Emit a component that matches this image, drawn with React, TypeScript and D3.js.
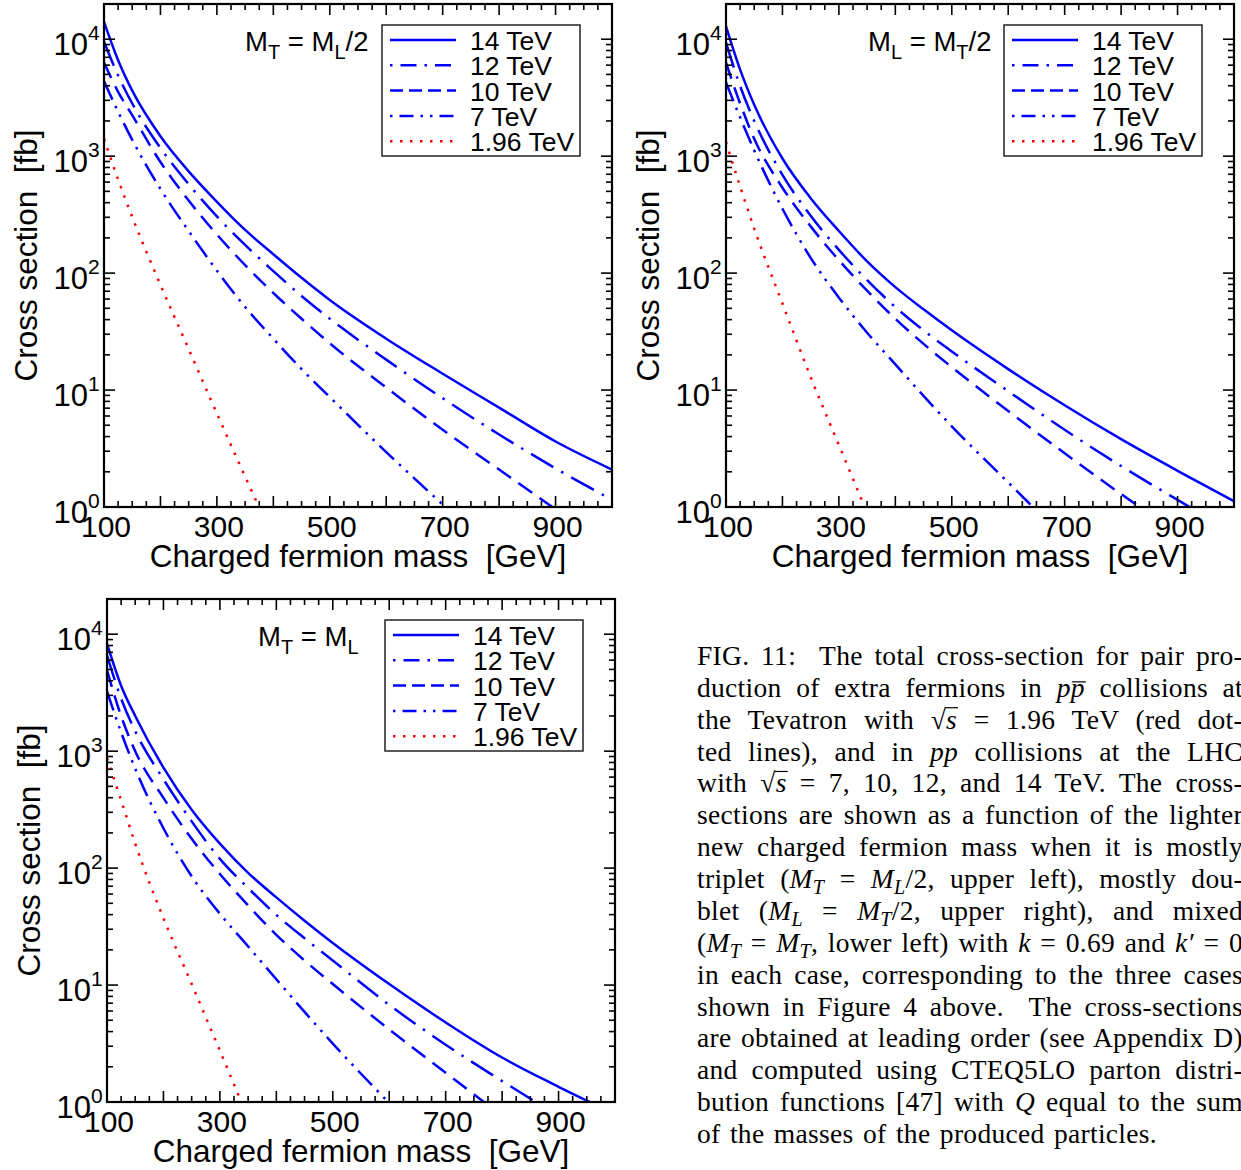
import React, { useLayoutEffect, useRef, useState } from 'react';
import * as d3 from 'd3';

// ---- data (cross sections in fb) ----
const MASS = [100, 125, 150, 200, 250, 300, 350, 400, 450, 500, 600, 700, 800, 900, 1000];
const ENERGY_LABELS = ['14 TeV', '12 TeV', '10 TeV', '7 TeV', '1.96 TeV'];
const X_TICK_LABELS = [100, 300, 500, 700, 900];
const Y_DECADES = [0, 1, 2, 3, 4];

// M_T = M_L/2
const A14 = [14100, 6610, 3630, 1480, 741, 407, 234, 145, 91.2, 58.9, 27.5, 13.8, 7.08, 3.63, 2.09];
const A12 = [9550, 4900, 2820, 1175, 575, 305, 174, 104, 63.8, 40.7, 18.2, 8.51, 4.17, 2.14, 1.15];
const A10 = [6310, 3550, 2240, 891, 417, 214, 117, 67.6, 40.7, 25.1, 10.5, 4.57, 2.09, 0.955];
const A7 = [4370, 2400, 1380, 525, 229, 105, 51.3, 27.5, 15.1, 8.71, 2.95, 1.05, 0.38];
const ATEV = [1410, 631, 302, 79.4, 22.4, 6.31, 1.82, 0.54];

// M_L = M_T/2
const B14 = [12900, 5500, 2750, 955, 437, 229, 126, 75.9, 49.0, 32.4, 15.1, 7.41, 3.8, 2.04, 1.12];
const B12 = [9330, 3980, 2000, 692, 309, 158, 87.1, 51.3, 32.4, 21.4, 9.77, 4.57, 2.24, 1.15, 0.6];
const B10 = [6310, 2820, 1410, 537, 251, 129, 70.8, 40.7, 24.8, 15.7, 6.61, 2.88, 1.29, 0.6];
const B7 = [4270, 2140, 1120, 355, 135, 61.7, 30.9, 16.6, 8.91, 4.9, 1.62, 0.54];
const BTEV = [1320, 550, 240, 55.0, 12.9, 3.39, 0.89];

// M_T = M_L
const C14 = [8320, 3630, 2000, 724, 316, 162, 91.2, 56.2, 35.5, 22.9, 10.2, 4.79, 2.4, 1.35, 0.79];
const C12 = [6610, 2820, 1480, 575, 251, 120, 67.6, 39.8, 25.1, 16.2, 6.76, 3.09, 1.51, 0.76];
const C10 = [4900, 2000, 1000, 398, 178, 89.1, 47.9, 26.9, 16.2, 10.2, 4.17, 1.78, 0.76];
const C7 = [3240, 1450, 708, 219, 85.1, 40.7, 21.4, 11.2, 5.89, 3.16, 0.98];
const CTEV = [871, 380, 162, 37.2, 10.2, 2.75, 0.72];

// ---- styles ----
const BLUE = '#0000ff';
const RED = '#ff0000';
const SERIES_STYLE = [
  { color: BLUE, curveDash: undefined, legendDash: undefined },
  { color: BLUE, curveDash: '26 9 2.5 9', legendDash: '2.5 8 16 8' },
  { color: BLUE, curveDash: '17 9', legendDash: '13 6' },
  { color: BLUE, curveDash: '20 7 2.5 7 2.5 7', legendDash: '2.5 7 14 7 2.5 7' },
  { color: RED, curveDash: '2.5 7.5', legendDash: '2.5 7.5' },
];

const SANS = '"Liberation Sans", Arial, Helvetica, sans-serif';
const SERIF = '"Liberation Serif", "Times New Roman", serif';
const W = 508;
const H = 503;

type Label = { a: string; sa: string; b: string; sb: string; tail: string };

const PANELS = [
  { x0: 104, y0: 4, series: [A14, A12, A10, A7, ATEV], label: { a: 'M', sa: 'T', b: ' = M', sb: 'L', tail: '/2' } as Label, lx: 141 },
  { x0: 726, y0: 4, series: [B14, B12, B10, B7, BTEV], label: { a: 'M', sa: 'L', b: ' = M', sb: 'T', tail: '/2' } as Label, lx: 142 },
  { x0: 107, y0: 599, series: [C14, C12, C10, C7, CTEV], label: { a: 'M', sa: 'T', b: ' = M', sb: 'L', tail: '' } as Label, lx: 151 },
];

function Panel({ idx, x0, y0, series, label, lx }: any) {
  const x = d3.scaleLinear().domain([100, 1000]).range([x0, x0 + W]);
  const y = d3.scaleLog().domain([1, 2e4]).range([y0 + H, y0]);
  const line = d3
    .line<[number, number]>()
    .x((d) => x(d[0]))
    .y((d) => y(d[1]))
    .curve(d3.curveMonotoneX);

  const xMajor = d3.range(100, 1001, 100);
  const xMinor = d3.range(100, 1001, 25).filter((v) => v % 100 !== 0);
  const yMajor = Y_DECADES.map((e) => Math.pow(10, e));
  const yMinor: number[] = [];
  Y_DECADES.forEach((e) => {
    for (let k = 2; k <= 9; k++) {
      const v = k * Math.pow(10, e);
      if (v <= 2e4) yMinor.push(v);
    }
  });
  const bot = y0 + H;
  const right = x0 + W;
  const MAJ = 11;
  const MIN = 6;
  const clipId = `clip${idx}`;

  return (
    <g>
      <defs>
        <clipPath id={clipId}>
          <rect x={x0} y={y0} width={W} height={H} />
        </clipPath>
      </defs>
      <g clipPath={`url(#${clipId})`}>
        {series.map((vals: number[], i: number) => {
          const pts: [number, number][] = vals.map((v, j) => [MASS[j], v]);
          const st = SERIES_STYLE[i];
          return (
            <path
              key={i}
              d={line(pts) || ''}
              fill="none"
              stroke={st.color}
              strokeWidth={2.5}
              strokeDasharray={st.curveDash}
            />
          );
        })}
      </g>
      <g stroke="#000" strokeWidth={1.6}>
        {xMajor.map((v) => (
          <g key={'xM' + v}>
            <line x1={x(v)} x2={x(v)} y1={bot} y2={bot - MAJ} />
            <line x1={x(v)} x2={x(v)} y1={y0} y2={y0 + MAJ} />
          </g>
        ))}
        {xMinor.map((v) => (
          <g key={'xm' + v}>
            <line x1={x(v)} x2={x(v)} y1={bot} y2={bot - MIN} />
            <line x1={x(v)} x2={x(v)} y1={y0} y2={y0 + MIN} />
          </g>
        ))}
        {yMajor.map((v) => (
          <g key={'yM' + v}>
            <line x1={x0} x2={x0 + MAJ} y1={y(v)} y2={y(v)} />
            <line x1={right} x2={right - MAJ} y1={y(v)} y2={y(v)} />
          </g>
        ))}
        {yMinor.map((v) => (
          <g key={'ym' + v}>
            <line x1={x0} x2={x0 + MIN} y1={y(v)} y2={y(v)} />
            <line x1={right} x2={right - MIN} y1={y(v)} y2={y(v)} />
          </g>
        ))}
      </g>
      <rect x={x0} y={y0} width={W} height={H} fill="none" stroke="#000" strokeWidth={2.2} />
      <g fontFamily={SANS} fill="#000">
        {X_TICK_LABELS.map((v) => (
          <text key={'xl' + v} x={x(v) + 2} y={bot + 30} fontSize={30} textAnchor="middle">
            {v}
          </text>
        ))}
        {Y_DECADES.map((e) => {
          const yy = y(Math.pow(10, e));
          return (
            <g key={'yl' + e}>
              <text x={x0 - 16} y={yy + 16} fontSize={31} textAnchor="end">
                10
              </text>
              <text x={x0 - 16} y={yy + 1} fontSize={21} textAnchor="start">
                {e}
              </text>
            </g>
          );
        })}
      </g>
      <text x={x0 + W / 2} y={bot + 60} fontFamily={SANS} fontSize={31.5} textAnchor="middle">
        Charged fermion mass{'\u00a0\u00a0'}[GeV]
      </text>
      <text
        transform={`translate(${x0 - 67},${y0 + H / 2}) rotate(-90)`}
        fontFamily={SANS}
        fontSize={31.5}
        textAnchor="middle"
      >
        Cross section{'\u00a0\u00a0'}[fb]
      </text>
      <text x={x0 + lx} y={y0 + 47} fontFamily={SANS} fontSize={27.5}>
        <tspan>{label.a}</tspan>
        <tspan dy={8} fontSize={20}>{label.sa}</tspan>
        <tspan dy={-8}>{label.b}</tspan>
        <tspan dy={8} fontSize={20}>{label.sb}</tspan>
        <tspan dy={-8}>{label.tail}</tspan>
      </text>
      <rect x={x0 + 278} y={y0 + 21} width={198} height={131} fill="#fff" stroke="#222" strokeWidth={1.5} />
      {ENERGY_LABELS.map((lab, i) => {
        const ly = y0 + 36 + i * 25.3;
        const st = SERIES_STYLE[i];
        return (
          <g key={'lg' + i}>
            <line
              x1={x0 + 286}
              x2={x0 + 352}
              y1={ly}
              y2={ly}
              stroke={st.color}
              strokeWidth={2.5}
              strokeDasharray={st.legendDash}
            />
            <text x={x0 + 366} y={ly + 10} fontFamily={SANS} fontSize={26.5}>
              {lab}
            </text>
          </g>
        );
      })}
    </g>
  );
}

type Seg = { t: string; i?: boolean; sub?: boolean; ov?: number };
const CAPTION: Seg[][] = [
  [{ t: 'FIG. 11:  The total cross-section for pair pro-' }],
  [{ t: 'duction of extra fermions in ' }, { t: 'p', i: true }, { t: 'p', i: true, ov: 15 }, { t: ' collisions at' }],
  [{ t: 'the Tevatron with \u221A' }, { t: 's', i: true, ov: 21 }, { t: ' = 1.96 TeV (red dot-' }],
  [{ t: 'ted lines), and in ' }, { t: 'pp', i: true }, { t: ' collisions at the LHC' }],
  [{ t: 'with \u221A' }, { t: 's', i: true, ov: 21 }, { t: ' = 7, 10, 12, and 14 TeV. The cross-' }],
  [{ t: 'sections are shown as a function of the lighter' }],
  [{ t: 'new charged fermion mass when it is mostly' }],
  [{ t: 'triplet (' }, { t: 'M', i: true }, { t: 'T', i: true, sub: true }, { t: ' = ' }, { t: 'M', i: true }, { t: 'L', i: true, sub: true }, { t: '/2, upper left), mostly dou-' }],
  [{ t: 'blet (' }, { t: 'M', i: true }, { t: 'L', i: true, sub: true }, { t: ' = ' }, { t: 'M', i: true }, { t: 'T', i: true, sub: true }, { t: '/2, upper right), and mixed' }],
  [{ t: '(' }, { t: 'M', i: true }, { t: 'T', i: true, sub: true }, { t: ' = ' }, { t: 'M', i: true }, { t: 'T', i: true, sub: true }, { t: ', lower left) with ' }, { t: 'k', i: true }, { t: ' = 0.69 and ' }, { t: 'k\u2032', i: true }, { t: ' = 0' }],
  [{ t: 'in each case, corresponding to the three cases' }],
  [{ t: 'shown in Figure 4 above.  The cross-sections' }],
  [{ t: 'are obtained at leading order (see Appendix D)' }],
  [{ t: 'and computed using CTEQ5LO parton distri-' }],
  [{ t: 'bution functions [47] with ' }, { t: 'Q', i: true }, { t: ' equal to the sum' }],
  [{ t: 'of the masses of the produced particles.' }],
];

function Caption() {
  const x0 = 697;
  const base = 665;
  const lh = 31.87;
  const refs = useRef<(SVGTextElement | null)[]>([]);
  const [bars, setBars] = useState<{ x1: number; x2: number; y: number }[]>([]);

  useLayoutEffect(() => {
    const run = () => {
      const out: { x1: number; x2: number; y: number }[] = [];
      CAPTION.forEach((segs, li) => {
        const el = refs.current[li];
        if (!el) return;
        el.style.wordSpacing = '0px';
        const nat = el.getComputedTextLength();
        const full = segs.map((s) => s.t).join('');
        const nsp = (full.match(/ /g) || []).length;
        const target = li === CAPTION.length - 1 ? 460 : 546;
        const ws = nsp ? (target - nat) / nsp : 0;
        el.style.wordSpacing = ws + 'px';
        let idx = 0;
        segs.forEach((s) => {
          if (s.ov) {
            try {
              const a = el.getStartPositionOfChar(idx);
              const b = el.getEndPositionOfChar(idx + s.t.length - 1);
              out.push({ x1: a.x - (s.ov > 18 ? 1 : -1), x2: b.x + 1, y: a.y - s.ov });
            } catch (e) {
              /* ignore */
            }
          }
          idx += s.t.length;
        });
      });
      setBars(out);
    };
    run();
    const f: any = (document as any).fonts;
    if (f && f.ready) f.ready.then(run);
  }, []);

  return (
    <g fontFamily={SERIF} fontSize={27.5} fill="#000" letterSpacing={0.3}>
      {CAPTION.map((segs, li) => {
        const parts: any[] = [];
        let shifted = false;
        segs.forEach((s, k) => {
          let dy = 0;
          if (s.sub && !shifted) {
            dy = 6;
            shifted = true;
          } else if (!s.sub && shifted) {
            dy = -6;
            shifted = false;
          }
          parts.push(
            <tspan key={k} dy={dy || undefined} fontStyle={s.i ? 'italic' : undefined} fontSize={s.sub ? 20 : undefined}>
              {s.t}
            </tspan>
          );
        });
        return (
          <text
            key={li}
            ref={(el) => {
              refs.current[li] = el;
            }}
            x={x0}
            y={base + li * lh}
            xmlSpace="preserve"
            style={{ whiteSpace: 'pre' }}
          >
            {parts}
          </text>
        );
      })}
      {bars.map((b, i) => (
        <line key={'ov' + i} x1={b.x1} x2={b.x2} y1={b.y} y2={b.y} stroke="#000" strokeWidth={1.2} />
      ))}
    </g>
  );
}

export default function App() {
  return (
    <svg
      width={1241}
      height={1170}
      viewBox="0 0 1241 1170"
      style={{ position: 'absolute', left: 0, top: 0, background: '#fff' }}
    >
      <rect x={0} y={0} width={1241} height={1170} fill="#fff" />
      {PANELS.map((p, i) => (
        <Panel key={i} idx={i} {...p} />
      ))}
      <Caption />
    </svg>
  );
}
